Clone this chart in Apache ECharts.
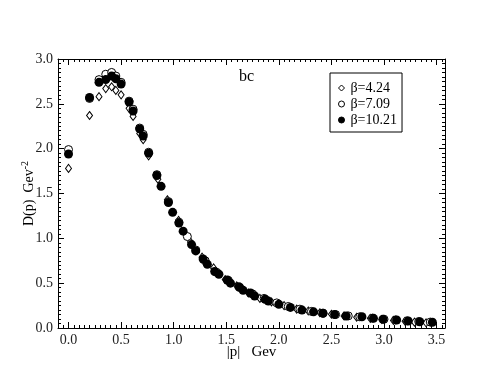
<!DOCTYPE html>
<html>
<head>
<meta charset="utf-8">
<script src="https://cdn.jsdelivr.net/npm/echarts@6/dist/echarts.min.js"></script>
<style>
  html, body { margin: 0; padding: 0; background: #fff; }
  #chart { width: 501px; height: 387px; }
</style>
</head>
<body>
<div id="chart"></div>
<script>
// beta = 4.24 (open diamonds)
var p424 = [0, 0.2, 0.29, 0.354, 0.41, 0.45, 0.5, 0.576, 0.614, 0.677, 0.71, 0.762, 0.85, 0.94, 1.047, 1.16, 1.27, 1.38, 1.49, 1.60, 1.71, 1.82, 1.93, 2.05, 2.17, 2.28, 2.39, 2.50, 2.62, 2.74, 2.87, 2.98, 3.09, 3.20, 3.29, 3.40];
var d424 = [1.78, 2.37, 2.58, 2.67, 2.69, 2.65, 2.60, 2.45, 2.36, 2.17, 2.10, 1.92, 1.66, 1.43, 1.20, 0.96, 0.79, 0.67, 0.54, 0.47, 0.39, 0.33, 0.29, 0.25, 0.21, 0.19, 0.17, 0.153, 0.135, 0.12, 0.108, 0.095, 0.085, 0.075, 0.065, 0.058];
// beta = 7.09 (open circles)
var p709 = [0, 0.2, 0.29, 0.354, 0.41, 0.45, 0.5, 0.576, 0.614, 0.677, 0.71, 0.762, 0.84, 0.95, 1.05, 1.13, 1.21, 1.30, 1.41, 1.52, 1.63, 1.75, 1.86, 1.98, 2.09, 2.20, 2.31, 2.42, 2.54, 2.66, 2.77, 2.89, 3.00, 3.11, 3.22, 3.33, 3.44];
var d709 = [1.99, 2.56, 2.77, 2.83, 2.85, 2.81, 2.74, 2.53, 2.44, 2.23, 2.16, 1.96, 1.71, 1.41, 1.18, 1.02, 0.87, 0.75, 0.62, 0.53, 0.45, 0.38, 0.33, 0.28, 0.24, 0.21, 0.185, 0.165, 0.15, 0.135, 0.125, 0.11, 0.098, 0.09, 0.08, 0.072, 0.066];
// beta = 10.21 (filled circles)
var p1021 = [0, 0.2, 0.29, 0.354, 0.41, 0.45, 0.5, 0.576, 0.614, 0.677, 0.71, 0.762, 0.84, 0.88, 0.95, 0.99, 1.05, 1.09, 1.17, 1.21, 1.28, 1.32, 1.39, 1.43, 1.51, 1.54, 1.62, 1.66, 1.73, 1.77, 1.87, 1.90, 2.0, 2.11, 2.22, 2.33, 2.42, 2.53, 2.64, 2.79, 2.90, 2.99, 3.12, 3.23, 3.34, 3.46];
var d1021 = [1.94, 2.57, 2.74, 2.77, 2.81, 2.78, 2.72, 2.52, 2.42, 2.22, 2.14, 1.95, 1.70, 1.58, 1.40, 1.29, 1.17, 1.08, 0.93, 0.86, 0.77, 0.71, 0.63, 0.60, 0.535, 0.50, 0.46, 0.42, 0.39, 0.357, 0.32, 0.30, 0.264, 0.23, 0.20, 0.18, 0.164, 0.15, 0.134, 0.126, 0.108, 0.097, 0.089, 0.078, 0.070, 0.064];

var xTicks = [0, 0.5, 1.0, 1.5, 2.0, 2.5, 3.0, 3.5];
var xMinor = [];
for (var i = -1; i <= 71; i++) { xMinor.push(+(i * 0.05).toFixed(2)); }

var font = 'Liberation Serif';
var xMin = -0.1, xMax = 3.58;

function pairs(xs, ys) {
  return xs.map(function (x, i) { return [x, ys[i]]; });
}

var chart = echarts.init(document.getElementById('chart'));

function xAx(pos, major, labels) {
  return {
    type: 'value', position: pos, min: xMin, max: xMax,
    axisLine: { show: major, onZero: false, lineStyle: { color: '#000', width: 1 } },
    axisTick: { show: true, inside: true, length: major ? 6 : 3, customValues: major ? xTicks : xMinor,
      lineStyle: { color: '#000', width: 1 } },
    axisLabel: labels ? { show: true, customValues: xTicks, formatter: function (v) { return v.toFixed(1); },
      fontFamily: font, fontSize: 14, color: '#222', margin: 5 } : { show: false },
    splitLine: { show: false }
  };
}

function yAx(pos, labels) {
  return {
    type: 'value', position: pos, min: 0, max: 3, interval: 0.5,
    axisLine: { show: true, onZero: false, lineStyle: { color: '#000', width: 1 } },
    axisTick: { show: true, inside: true, length: 6, lineStyle: { color: '#000' } },
    minorTick: { show: true, splitNumber: 10, length: 3, lineStyle: { color: '#000' } },
    axisLabel: labels ? { show: true, formatter: function (v) { return v.toFixed(1); },
      fontFamily: font, fontSize: 14, color: '#222', margin: 5 } : { show: false },
    splitLine: { show: false }, minorSplitLine: { show: false }
  };
}

var xa = xAx('bottom', true, true);
xa.name = '|p|   Gev';
xa.nameLocation = 'middle';
xa.nameGap = 17;
xa.nameMoveOverlap = false;
xa.nameTextStyle = { fontFamily: font, fontSize: 15, color: '#000' };

var ya = yAx('left', true);
ya.name = '{a|D(p)  Gev}{s|-2}';
ya.nameLocation = 'middle';
ya.nameRotate = 90;
ya.nameGap = 20;
ya.nameMoveOverlap = false;
ya.nameTextStyle = { rich: {
  a: { fontFamily: font, fontSize: 14, color: '#000' },
  s: { fontFamily: font, fontSize: 10, color: '#000', verticalAlign: 'top', padding: [0, 0, 8, 0] }
} };

var option = {
  animation: false,
  backgroundColor: '#fff',
  title: {
    text: 'bc', left: 234, top: 64,
    textStyle: { fontFamily: font, fontSize: 16, fontWeight: 'normal', color: '#000' }
  },
  legend: {
    orient: 'vertical', left: 330, top: 73,
    padding: [8, 5, 5, 8], itemGap: 2, itemWidth: 6, itemHeight: 6,
    borderColor: '#000', borderWidth: 1, borderRadius: 0,
    itemStyle: { borderWidth: 1 },
    textStyle: { fontFamily: font, fontSize: 14, lineHeight: 14, color: '#000', padding: [0, 0, 0, 1] },
    data: ['β=4.24', 'β=7.09', 'β=10.21']
  },
  grid: { left: 58, right: 56, top: 59, bottom: 59 },
  xAxis: [xa, xAx('bottom', false, false), xAx('top', true, false), xAx('top', false, false)],
  yAxis: [ya, yAx('right', false)],
  series: [
    {
      name: 'β=4.24', type: 'scatter', symbol: 'diamond', symbolSize: [6, 8], z: 2,
      itemStyle: { color: '#fff', borderColor: '#000', borderWidth: 1, opacity: 1 },
      data: pairs(p424, d424)
    },
    {
      name: 'β=7.09', type: 'scatter', symbol: 'circle', symbolSize: 8, z: 3,
      itemStyle: { color: '#fff', borderColor: '#000', borderWidth: 1, opacity: 1 },
      data: pairs(p709, d709)
    },
    {
      name: 'β=10.21', type: 'scatter', symbol: 'circle', symbolSize: 9, z: 4,
      itemStyle: { color: '#000', borderColor: '#000', borderWidth: 0, opacity: 1 },
      data: pairs(p1021, d1021)
    }
  ]
};

chart.setOption(option);
</script>
</body>
</html>
